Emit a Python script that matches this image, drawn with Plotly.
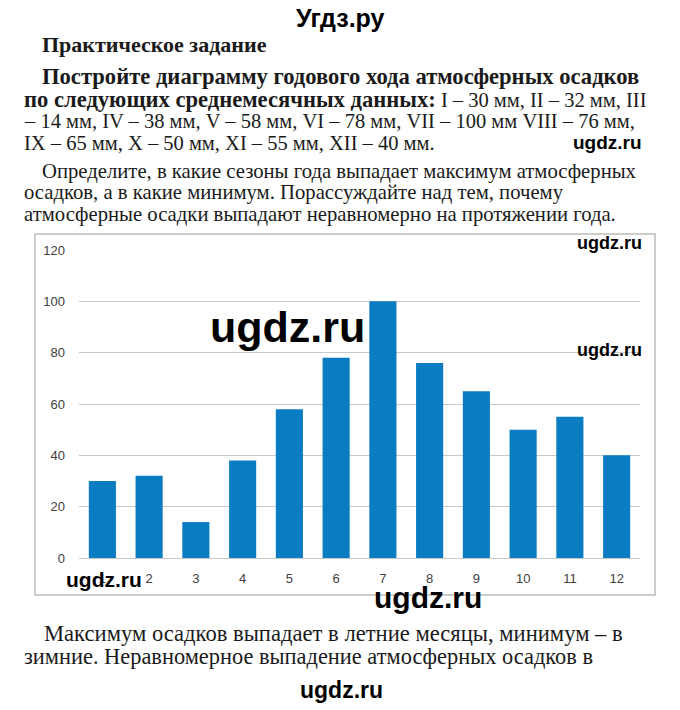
import plotly.graph_objects as go

months = ["1", "2", "3", "4", "5", "6", "7", "8", "9", "10", "11", "12"]
precip = [30, 32, 14, 38, 58, 78, 100, 76, 65, 50, 55, 40]
y_ticks = [0, 20, 40, 60, 80, 100, 120]

W, H = 680, 710
PL, PR, PT, PB = 79, 640, 250, 558  # plot area pixels


def px(x):
    return (x - PL) / (PR - PL)


def py(y):
    return (PB - y) / (PB - PT)


fig = go.Figure()
fig.add_trace(go.Bar(x=months, y=precip, marker=dict(color="#0A7DC2", line=dict(width=0)),
                     hoverinfo="x+y"))

serif = "Liberation Serif"
BS = "<span style='font-size:22.6px'><b>"
BE = "</b></span>"
text_lines = [
    (40, 44, "<span style='font-size:22px'><b>Практическое задание</b></span>", 20.5),
    (40, 77, BS + "Постройте диаграмму годового хода атмосферных осадков" + BE, 20.5),
    (22, 99, BS + "по следующих среднемесячных данных:" + BE + " I – 30 мм, II – 32 мм, III", 20.5),
    (22, 121, "– 14 мм, IV – 38 мм, V – 58 мм, VI – 78 мм, VII – 100 мм VIII – 76 мм,", 20.5),
    (22, 143, "IX – 65 мм, X – 50 мм, XI – 55 мм, XII – 40 мм.", 20.5),
    (40, 171, "Определите, в какие сезоны года выпадает максимум атмосферных", 20.7),
    (22, 193, "осадков, а в какие минимум. Порассуждайте над тем, почему", 20.7),
    (22, 214, "атмосферные осадки выпадают неравномерно на протяжении года.", 20.7),
    (42, 633, "Максимум осадков выпадает в летние месяцы, минимум – в", 22.6),
    (22, 656, "зимние. Неравномерное выпадение атмосферных осадков в", 22.4),
]

annotations = []
for x, y, t, s in text_lines:
    annotations.append(dict(x=px(x), y=py(y), xref="paper", yref="paper", text=t,
                            showarrow=False, xanchor="left", yanchor="middle",
                            font=dict(family=serif, size=s, color="#1a1a1a")))

# header and watermarks
marks = [
    (340, 18, "Угдз.ру", 25),
    (607, 142, "ugdz.ru", 19),
    (609, 243, "ugdz.ru", 18),
    (609, 350, "ugdz.ru", 18),
    (287, 327, "ugdz.ru", 43),
    (104, 579, "ugdz.ru", 21),
    (428, 597, "ugdz.ru", 30),
    (341, 690, "ugdz.ru", 23),
]
for x, y, t, s in marks:
    annotations.append(dict(x=px(x), y=py(y), xref="paper", yref="paper", text="<b>" + t + "</b>",
                            showarrow=False, xanchor="center", yanchor="middle",
                            font=dict(family="Liberation Sans", size=s, color="#000000")))

fig.update_layout(
    width=W, height=H,
    margin=dict(l=PL, r=W - PR, t=PT, b=H - PB, pad=0),
    paper_bgcolor="white", plot_bgcolor="white",
    showlegend=False,
    bargap=0.42,
    annotations=annotations,
    shapes=[dict(type="rect", xref="paper", yref="paper",
                 x0=px(35), x1=px(655), y0=py(234), y1=py(595),
                 line=dict(color="#BDBDBD", width=1.5), fillcolor="rgba(0,0,0,0)", layer="below")],
    xaxis=dict(showgrid=False, showline=False, zeroline=False, ticks="",
               tickfont=dict(family="Liberation Sans", size=13, color="#404040"),
               ticklabelstandoff=11),
    yaxis=dict(range=[0, 120], tickvals=y_ticks, showgrid=True, gridcolor="#C8C8C8", gridwidth=1,
               zeroline=True, zerolinecolor="#C8C8C8", zerolinewidth=1, showline=False, ticks="",
               tickfont=dict(family="Liberation Sans", size=13, color="#404040"),
               ticklabelstandoff=13),
)

fig.write_html("out.html")
